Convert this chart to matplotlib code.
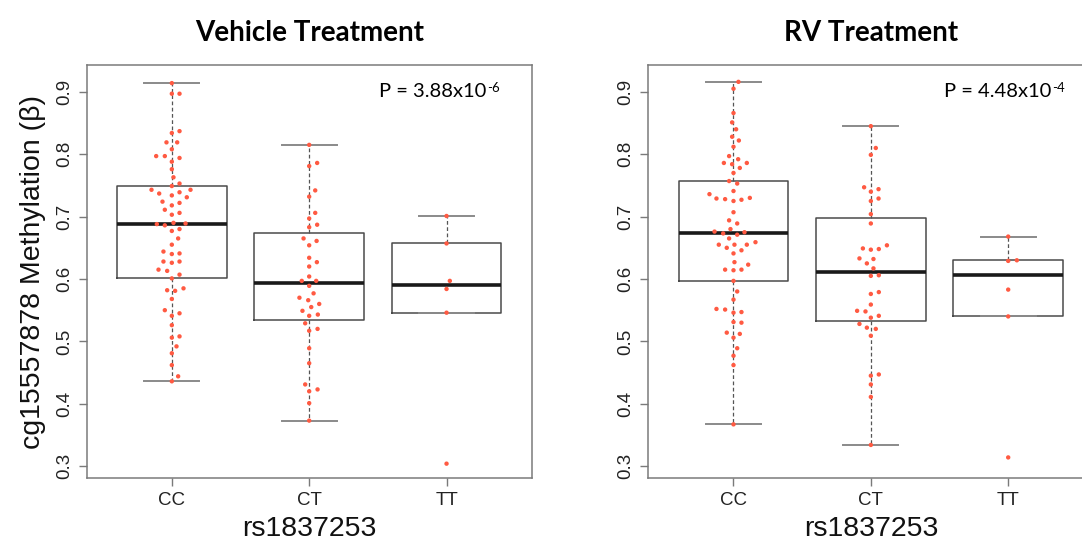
import matplotlib
matplotlib.use("Agg")
import matplotlib.pyplot as plt

# # Genotype groups and panel titles:
genotypes = ["CC", "CT", "TT"]
panel_titles = ["Vehicle Treatment", "RV Treatment"]
p_bases = ["P = 3.88x10", "P = 4.48x10"]
p_exponents = ["-6", "-4"]

# # Box statistics: (whisker low, Q1, median, Q3, whisker high)
vehicle_box = [(0.436, 0.601, 0.688, 0.749, 0.914),
               (0.373, 0.535, 0.593, 0.673, 0.815),
               (0.546, 0.546, 0.590, 0.657, 0.701)]
rv_box = [(0.367, 0.597, 0.674, 0.757, 0.916),
          (0.334, 0.533, 0.611, 0.698, 0.845),
          (0.540, 0.540, 0.606, 0.630, 0.668)]

# # Individual methylation values (beta) per genotype:
vehicle_cc = [0.914, 0.897, 0.897, 0.837, 0.834, 0.819, 0.819, 0.808, 0.797, 0.797,
              0.794, 0.788, 0.776, 0.763, 0.753, 0.749, 0.743, 0.743, 0.737, 0.739,
              0.734, 0.731, 0.724, 0.722, 0.718, 0.711, 0.706, 0.703, 0.688, 0.690,
              0.689, 0.686, 0.680, 0.677, 0.665, 0.655, 0.644, 0.641, 0.640, 0.628,
              0.628, 0.626, 0.615, 0.613, 0.607, 0.601, 0.585, 0.582, 0.581, 0.568,
              0.550, 0.545, 0.541, 0.526, 0.508, 0.506, 0.492, 0.481, 0.462, 0.444,
              0.436]
vehicle_ct = [0.815, 0.786, 0.781, 0.742, 0.732, 0.706, 0.697, 0.687, 0.683, 0.665,
              0.661, 0.654, 0.634, 0.627, 0.620, 0.604, 0.597, 0.597, 0.589, 0.577,
              0.570, 0.566, 0.560, 0.555, 0.549, 0.543, 0.541, 0.529, 0.520, 0.517,
              0.489, 0.465, 0.431, 0.423, 0.420, 0.401, 0.373]
vehicle_tt = [0.701, 0.657, 0.597, 0.584, 0.546, 0.304]

rv_cc = [0.916, 0.905, 0.866, 0.851, 0.840, 0.828, 0.822, 0.812, 0.797, 0.792,
         0.786, 0.784, 0.786, 0.778, 0.770, 0.757, 0.753, 0.741, 0.736, 0.729,
         0.728, 0.725, 0.727, 0.730, 0.707, 0.694, 0.689, 0.680, 0.676, 0.673,
         0.675, 0.671, 0.665, 0.659, 0.655, 0.655, 0.655, 0.650, 0.646, 0.641,
         0.627, 0.623, 0.615, 0.614, 0.615, 0.597, 0.580, 0.567, 0.552, 0.551,
         0.546, 0.547, 0.531, 0.530, 0.514, 0.512, 0.506, 0.489, 0.477, 0.462,
         0.367]
rv_ct = [0.845, 0.810, 0.799, 0.747, 0.744, 0.740, 0.729, 0.725, 0.704, 0.689,
         0.654, 0.649, 0.647, 0.648, 0.633, 0.632, 0.625, 0.617, 0.605, 0.606,
         0.576, 0.579, 0.559, 0.549, 0.548, 0.541, 0.538, 0.528, 0.522, 0.520,
         0.509, 0.447, 0.445, 0.431, 0.411, 0.334]
rv_tt = [0.668, 0.629, 0.630, 0.583, 0.540, 0.314]

# # Horizontal swarm offsets of each point (same order as the values above):
vehicle_cc_dx = [0, 0, 0.056, 0.056, 0, -0.039, 0.039, 0, -0.114, -0.051,
                 0.056, 0, 0, 0.012, 0.056, 0, -0.148, 0.136, -0.092, 0.056,
                 0, 0.109, -0.068, 0.056, 0, -0.051, 0.056, 0, -0.109, 0.012,
                 0.100, -0.051, 0.056, 0, 0.046, 0, -0.061, 0.056, 0, -0.061,
                 0.056, 0, -0.097, -0.034, 0.056, 0, 0.085, -0.034, 0.024, 0,
                 -0.051, 0.056, 0, 0, 0.056, 0, 0.034, 0, 0, 0.046,
                 0]
vehicle_ct_dx = [0, 0.058, 0, 0.044, 0, 0.044, 0, 0.058, 0, -0.041,
                 0.054, 0, 0, 0.056, 0, 0, -0.054, 0.051, 0, 0.032,
                 -0.071, -0.007, 0.073, 0.015, -0.049, 0.063, 0, -0.029, 0.061, 0,
                 0, 0, -0.029, 0.061, 0, 0, 0]
vehicle_tt_dx = [0, 0, 0.024, 0, 0, 0]

rv_cc_dx = [0.036, 0, 0, -0.010, 0.019, -0.010, 0.039, 0, -0.032, 0.034,
            -0.070, -0.010, 0.097, 0.046, 0, -0.032, 0.027, 0, -0.175, -0.124,
            -0.061, 0, 0.058, 0.119, 0, -0.032, 0.027, -0.022, -0.138, -0.075,
            0.080, 0.027, -0.032, 0.160, -0.107, 0.007, 0.097, -0.049, 0.058, 0,
            0.007, 0.107, -0.061, 0, 0.058, 0, 0.027, 0, -0.124, -0.061,
            0, 0.058, 0, 0.058, -0.049, 0.046, 0, 0.027, 0, 0,
            0]
rv_ct_dx = [0, 0.036, 0, -0.049, 0.056, 0, 0.056, 0, 0, 0,
            0.117, -0.058, 0, 0.058, -0.083, 0.019, -0.029, 0.019, 0, 0.058,
            0, 0.058, 0, -0.100, -0.039, 0.058, 0, -0.083, -0.029, 0.036,
            0, 0.058, 0, 0, 0, 0]
rv_tt_dx = [0, 0, 0.063, 0, 0, 0]

panels = [
    (vehicle_box, [vehicle_cc, vehicle_ct, vehicle_tt], [vehicle_cc_dx, vehicle_ct_dx, vehicle_tt_dx]),
    (rv_box, [rv_cc, rv_ct, rv_tt], [rv_cc_dx, rv_ct_dx, rv_tt_dx]),
]

axis_font = "Liberation Sans"
label_font = "Lato"
spine_col = "#7a7a7a"
point_col = "#ff5a42"

fig = plt.figure(figsize=(10.82, 5.44), dpi=100)
ax_left = fig.add_axes([0.0801, 0.1213, 0.4113, 0.7592])
ax_right = fig.add_axes([0.5992, 0.1213, 0.4113, 0.7592])

for i, (ax, (box, groups, offsets)) in enumerate(zip([ax_left, ax_right], panels)):
    stats = []
    for lo, q1, med, q3, hi in box:
        stats.append(dict(whislo=lo, q1=q1, med=med, q3=q3, whishi=hi, fliers=[]))
    ax.bxp(stats, positions=[1, 2, 3], widths=0.8, capwidths=0.4, showfliers=False,
           boxprops=dict(color="#4a4a4a", linewidth=1.1),
           whiskerprops=dict(color="#555555", linewidth=0.9, linestyle=(0, (3, 2))),
           capprops=dict(color="#8a8a8a", linewidth=1.4),
           medianprops=dict(color="#1a1a1a", linewidth=2.6))

    for k, (vals, dx) in enumerate(zip(groups, offsets)):
        xs = [k + 1 + d for d in dx]
        ax.scatter(xs, vals, s=10, color=point_col, edgecolors="none", zorder=5)

    ax.set_xlim(0.38, 3.62)
    ax.set_ylim(0.281, 0.943)
    ax.set_xticks([1, 2, 3])
    ax.set_xticklabels(genotypes, fontfamily=axis_font, fontsize=13.5)
    ax.set_yticks([0.3, 0.4, 0.5, 0.6, 0.7, 0.8, 0.9])
    ax.set_yticklabels(["0.3", "0.4", "0.5", "0.6", "0.7", "0.8", "0.9"],
                       fontfamily=axis_font, fontsize=13.5, rotation=90, va="center")
    ax.tick_params(length=6, width=1.0, color=spine_col, pad=4, labelcolor="#222222")
    for sp in ax.spines.values():
        sp.set_color(spine_col)
        sp.set_linewidth(1.1)

    ax.set_xlabel("rs1837253", fontfamily=axis_font, fontsize=20.5, labelpad=5, color="#111111")
    ax.set_title(panel_titles[i], fontfamily=label_font, fontweight="bold", fontsize=20, pad=17)

    # P value with a superscript exponent drawn as a second text object
    base = ax.text(0.905 if i else 0.898, 0.935, p_bases[i], transform=ax.transAxes,
                   ha="right", va="center", fontfamily=label_font, fontsize=14.5)
    ax.annotate(p_exponents[i], xy=(1.0, 1.0), xycoords=base, xytext=(0.5, 1),
                textcoords="offset points", ha="left", va="top",
                fontfamily=label_font, fontsize=9.5)

ax_left.set_ylabel("cg15557878 Methylation (β)", fontfamily=axis_font, fontsize=20.5,
                   labelpad=7, color="#111111")

plt.savefig("out.png", dpi=100)
